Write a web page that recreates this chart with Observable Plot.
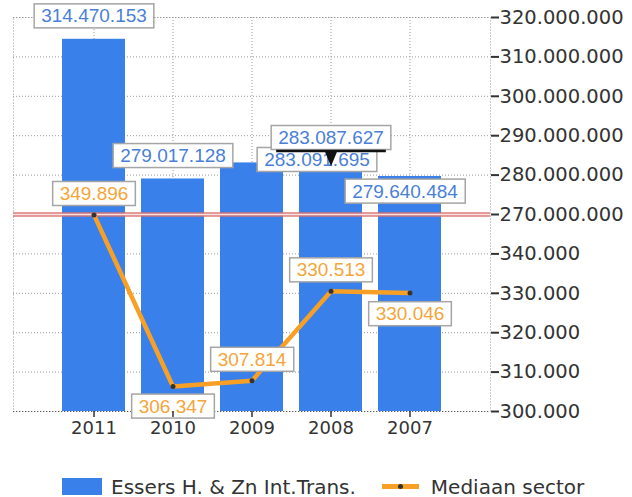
<!DOCTYPE html>
<html>
<head>
<meta charset="utf-8">
<script src="https://cdn.jsdelivr.net/npm/d3@7"></script>
<script src="https://cdn.jsdelivr.net/npm/@observablehq/plot@0.6"></script>
<style>
  html, body { margin: 0; padding: 0; background: #fff; }
  #wrap { position: relative; width: 632px; height: 497px; overflow: hidden; }
  #legend { position: absolute; left: 62px; top: 478px; display: flex; align-items: center; height: 17px;
            font-family: "DejaVu Sans", sans-serif; font-size: 20px; color: #333; white-space: nowrap; }
  .item { display: flex; align-items: center; }
</style>
</head>
<body>
<div id="wrap">
  <div id="chart"></div>
  <div id="legend"></div>
</div>
<script>
// ---- data ----
const years = ["2011", "2010", "2009", "2008", "2007"];
const companyValues = [314470153, 279017128, 283091695, 283087627, 279640484];
const sectorMedian = [349896, 306347, 307814, 330513, 330046];
const companyName = "Essers H. & Zn Int.Trans.";
const sectorName = "Mediaan sector";
const companyTicks = [270000000, 280000000, 290000000, 300000000, 310000000, 320000000];
const sectorTicks = [300000, 310000, 320000, 330000, 340000];
const companyDomain = [270000000, 320000000];
const sectorDomain = [300000, 350000];

// ---- styling ----
const BLUE = "#3a80ea";
const BLUE_TEXT = "#4a7fd6";
const ORANGE = "#f8a025";
const ORANGE_TEXT = "#f4a53a";
const blueLabelOffsets = [[0, -23], [0, -23], [65, -3], [0, -25], [-5, 15]];
const orangeLabelOffsets = [[0, -21], [0, 20], [0, -21], [0, -21], [0, 21]];

const fmt = d3.formatLocale({decimal: ",", thousands: ".", grouping: [3], currency: ["", ""]}).format(",d");

// two stacked panels on one position scale: sector 0..1, company 1..2
const companyPos = v => 1 + (v - companyDomain[0]) / (companyDomain[1] - companyDomain[0]);
const sectorPos = v => (v - sectorDomain[0]) / (sectorDomain[1] - sectorDomain[0]);

const rows = years.map((year, i) => ({year, company: companyValues[i], sector: sectorMedian[i]}));
const yTicks = [
  ...sectorTicks.map(t => ({pos: sectorPos(t), label: fmt(t)})),
  ...companyTicks.map(t => ({pos: companyPos(t), label: fmt(t)}))
];
const labelAt = p => { const t = yTicks.find(d => Math.abs(d.pos - p) < 1e-9); return t ? t.label : ""; };

const blueLabel = i => Plot.text([rows[i]], {
  x: "year", y: d => companyPos(d.company), text: d => fmt(d.company),
  dx: blueLabelOffsets[i][0], dy: blueLabelOffsets[i][1],
  fill: BLUE_TEXT, fontSize: 19, fontFamily: "Liberation Sans"
});
const orangeLabel = i => Plot.text([rows[i]], {
  x: "year", y: d => sectorPos(d.sector), text: d => fmt(d.sector),
  dx: orangeLabelOffsets[i][0], dy: orangeLabelOffsets[i][1],
  fill: ORANGE_TEXT, fontSize: 19, fontFamily: "Liberation Sans"
});

const chart = Plot.plot({
  width: 632,
  height: 450,
  marginLeft: 13,
  marginRight: 142,
  marginTop: 17,
  marginBottom: 39,
  style: {fontFamily: "DejaVu Sans", fontSize: "19px", background: "white", overflow: "visible"},
  x: {type: "band", domain: years, paddingInner: 0.2, paddingOuter: 0.61, label: null},
  y: {domain: [0, 2], label: null},
  marks: [
    Plot.frame({stroke: "#999", strokeDasharray: "1,2"}),
    Plot.gridY(yTicks.map(d => d.pos), {stroke: "#999", strokeOpacity: 1, strokeDasharray: "1,2"}),
    Plot.gridX({stroke: "#999", strokeOpacity: 1, strokeDasharray: "1,2"}),
    Plot.barY(rows, {x: "year", y1: 0, y2: d => companyPos(d.company), fill: BLUE}),
    Plot.ruleY([1], {stroke: "#d9706e", strokeWidth: 4.5, strokeOpacity: 0.9}),
    Plot.ruleY([1], {stroke: "#f8e2e2", strokeWidth: 1.5}),
    Plot.ruleY([0], {stroke: "#555", strokeDasharray: "1,2"}),
    Plot.line(rows, {x: "year", y: d => sectorPos(d.sector), stroke: ORANGE, strokeWidth: 4.5}),
    Plot.dot(rows, {x: "year", y: d => sectorPos(d.sector), r: 2.5, fill: "#333"}),
    ...[0, 1, 2, 4].map(blueLabel),
    ...[0, 1, 2, 3, 4].map(orangeLabel),
    blueLabel(3),
    Plot.axisY(yTicks.map(d => d.pos), {
      anchor: "right", tickSize: 8, tickPadding: 1, tickFormat: labelAt, label: null,
      fontSize: 19.5, fontFamily: "DejaVu Sans", color: "#333", strokeWidth: 2
    }),
    Plot.axisX({tickSize: 6, tickPadding: 4, label: null, fontSize: 18, fontFamily: "DejaVu Sans", color: "#333", strokeWidth: 1.5})
  ]
});

document.getElementById("chart").append(chart);

// label boxes (matched by their text)
const NS = "http://www.w3.org/2000/svg";
const boxed = new Set([...companyValues.map(fmt), ...sectorMedian.map(fmt)]);
const calloutText = fmt(companyValues[3]);
chart.querySelectorAll("text").forEach(t => {
  const s = t.textContent;
  if (!boxed.has(s)) return;
  const bb = t.getBBox();
  const r = document.createElementNS(NS, "rect");
  const bx = bb.x - 7, by = bb.y - 1.5, bw = bb.width + 14, bh = bb.height + 3;
  r.setAttribute("x", bx); r.setAttribute("y", by);
  r.setAttribute("width", bw); r.setAttribute("height", bh);
  r.setAttribute("fill", "white"); r.setAttribute("stroke", "#a5a5a5"); r.setAttribute("stroke-width", "1.5");
  if (t.getAttribute("transform")) r.setAttribute("transform", t.getAttribute("transform"));
  t.parentNode.insertBefore(r, t);
  if (s === calloutText) {
    const cx = bx + bw / 2, yb = by + bh + 1.5;
    const p = document.createElementNS(NS, "path");
    p.setAttribute("d", `M${bx + 5},${yb}H${bx + bw - 5}M${cx - 5},${yb}L${cx + 5},${yb}L${cx},${yb + 12}Z`);
    p.setAttribute("stroke", "#111"); p.setAttribute("stroke-width", "2.5"); p.setAttribute("fill", "#111");
    if (t.getAttribute("transform")) p.setAttribute("transform", t.getAttribute("transform"));
    t.parentNode.appendChild(p);
  }
});

// legend
const legend = document.getElementById("legend");
legend.innerHTML = `
  <div class="item"><span style="display:inline-block;width:40px;height:17px;background:${BLUE};margin-right:9px"></span><span></span></div>
  <div class="item" style="margin-left:26px"><svg width="37" height="17" style="margin-right:12px"><line x1="0" x2="37" y1="8.5" y2="8.5" stroke="${ORANGE}" stroke-width="5"/><circle cx="18.5" cy="8.5" r="2.5" fill="#333"/></svg><span></span></div>`;
const spans = legend.querySelectorAll(".item > span:last-child");
spans[0].textContent = companyName;
spans[1].textContent = sectorName;
</script>
</body>
</html>
